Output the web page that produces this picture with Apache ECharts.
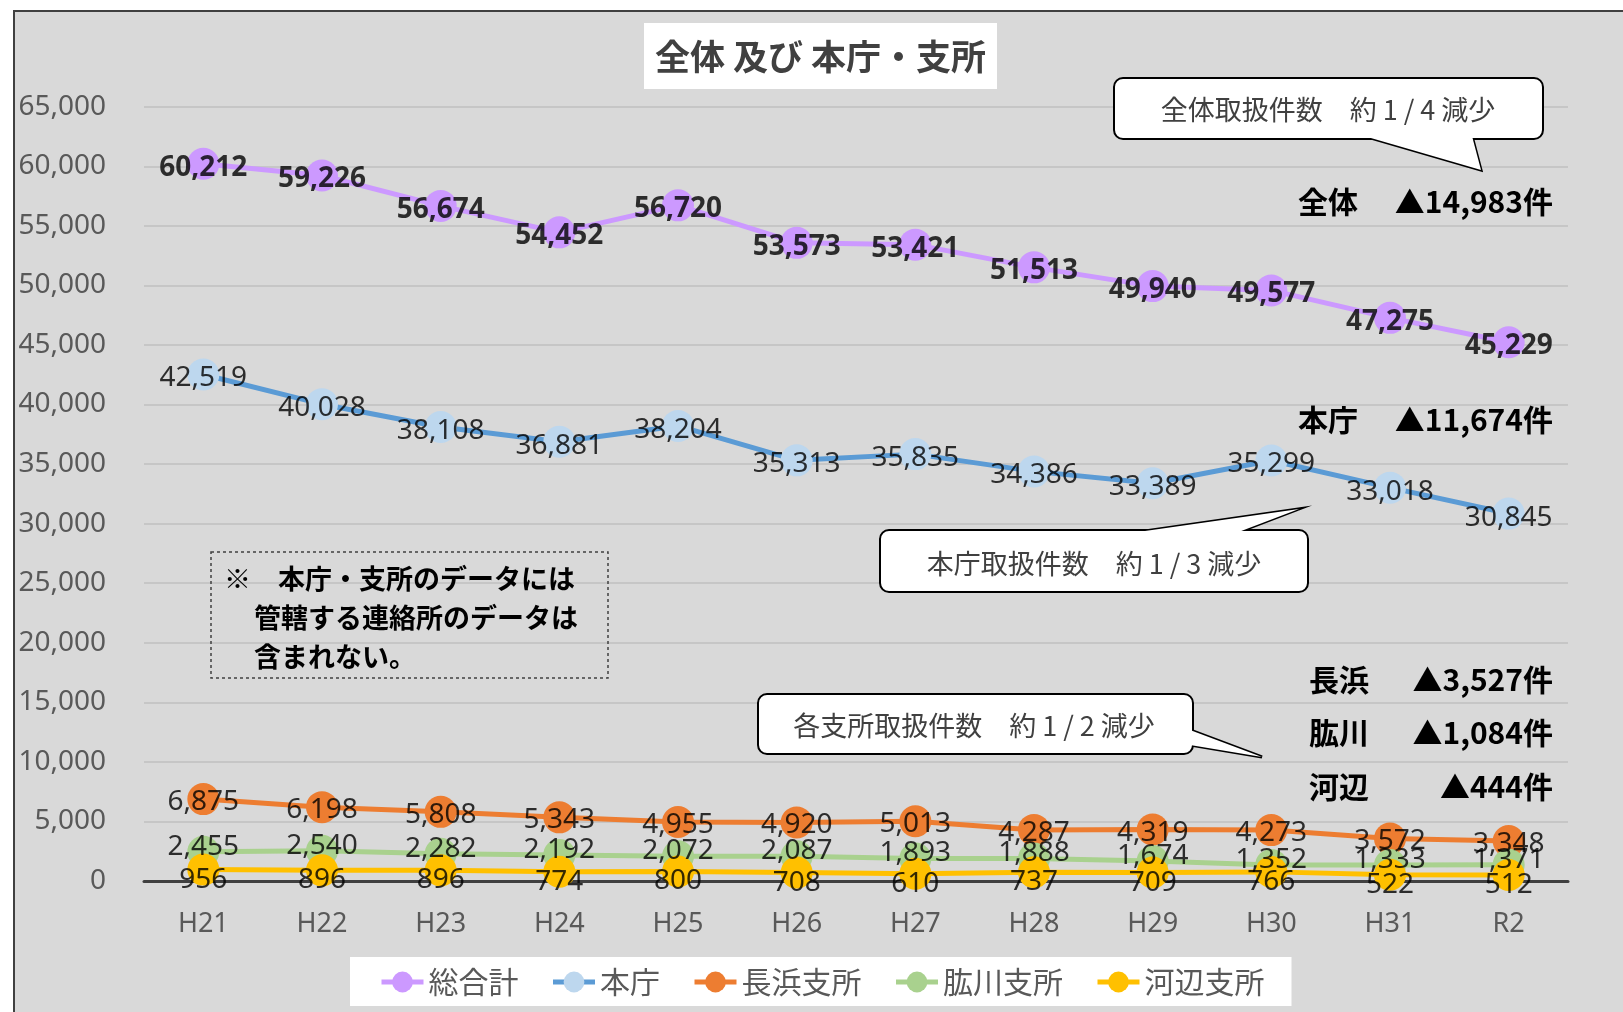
<!DOCTYPE html>
<html><head><meta charset="utf-8">
<script src="https://cdn.jsdelivr.net/npm/echarts@6/dist/echarts.min.js"></script>
<style>
html,body{margin:0;padding:0;background:#fff;overflow:hidden;width:1623px;height:1012px;}
#bg{position:absolute;left:13px;top:10px;width:1700px;height:1100px;background:#d9d9d9;border-top:2px solid #404040;border-left:2px solid #404040;}
#chart{position:absolute;left:0;top:0;width:1623px;height:1012px;}
</style></head><body><div id="bg"></div><div id="chart"></div>
<script>
const categories = ['H21','H22','H23','H24','H25','H26','H27','H28','H29','H30','H31','R2'];
const seriesNames = ['総合計','本庁','長浜支所','肱川支所','河辺支所'];
const totalValues    = [60212,59226,56674,54452,56720,53573,53421,51513,49940,49577,47275,45229];
const honchoValues   = [42519,40028,38108,36881,38204,35313,35835,34386,33389,35299,33018,30845];
const nagahamaValues = [6875,6198,5808,5343,4955,4920,5013,4287,4319,4273,3572,3348];
const hijikawaValues = [2455,2540,2282,2192,2072,2087,1893,1888,1674,1352,1333,1371];
const kawabeValues   = [956,896,896,774,800,708,610,737,709,766,522,512];
const decreaseNames  = ['全体','本庁','長浜','肱川','河辺'];
const decreaseTexts  = ['▲14,983件','▲11,674件','▲3,527件','▲1,084件','▲444件'];

const allValues = [totalValues, honchoValues, nagahamaValues, hijikawaValues, kawabeValues];
const lineColors = ['#cc99ff','#5b9bd5','#ed7d31','#a9d18e','#ffc000'];
const markerColors = ['#cc99ff','#bdd7ee','#ed7d31','#a9d18e','#ffc000'];
const labelOffsets = [4,4,3,-5,10];
const fmt = v => Number(v).toLocaleString('en-US');
const NUMFONT = '"Noto Sans", "Noto Sans CJK JP", sans-serif';
const JPFONT = '"Noto Sans CJK JP", "Noto Sans", sans-serif';

const series = [];
allValues.forEach((vals, i) => {
  series.push({
    name: seriesNames[i], type: 'line', data: vals, z: 2 + i,
    symbol: 'circle', symbolSize: 32, showSymbol: true,
    lineStyle: {color: lineColors[i], width: 5},
    itemStyle: {color: markerColors[i]},
    label: {show: false}
  });
});
allValues.forEach((vals, i) => {
  series.push({
    name: '_lbl' + i, type: 'scatter', data: vals, z: 20, silent: true,
    symbolSize: 1, itemStyle: {color: 'rgba(0,0,0,0)'},
    label: {show: true, position: 'inside', offset: [0, labelOffsets[i]],
      formatter: p => fmt(p.value), color: '#000', fontSize: 28,
      fontWeight: i === 0 ? 'bold' : 'normal', fontFamily: NUMFONT}
  });
});

const graphics = [];
// title
graphics.push({type:'rect', z:100, shape:{x:644,y:23,width:353,height:66}, style:{fill:'#fff'}});
graphics.push({type:'text', z:101, x:820.5, y:57, style:{text:'全体 及び 本庁・支所', fill:'#404040', font:'bold 35px ' + JPFONT, align:'center', verticalAlign:'middle'}});
// callouts: box + pointer triangle
const callouts = [
  {box:[1114,78,429,61], tri:[[1364,136],[1481,170],[1472,136]], tx:1328, ty:110, text:'全体取扱件数　約 1 / 4 減少'},
  {box:[880,530,428,62], tri:[[1131,533],[1299,509],[1236,533]], tx:1094, ty:564, text:'本庁取扱件数　約 1 / 3 減少'},
  {box:[758,694,435,60], tri:[[1190,730],[1262,757],[1190,745]], tx:974, ty:726, text:'各支所取扱件数　約 1 / 2 減少'}
];
callouts.forEach(c => {
  graphics.push({type:'polygon', z:100, shape:{points:c.tri}, style:{fill:'#fff', stroke:'#000', lineWidth:3}});
  graphics.push({type:'rect', z:100, shape:{x:c.box[0],y:c.box[1],width:c.box[2],height:c.box[3],r:9}, style:{fill:'#fff', stroke:'#000', lineWidth:2}});
  graphics.push({type:'polygon', z:100, shape:{points:c.tri}, style:{fill:'#fff'}});
  graphics.push({type:'text', z:101, x:c.tx, y:c.ty, style:{text:c.text, fill:'#404040', font:'27px ' + JPFONT, align:'center', verticalAlign:'middle'}});
});
// note box
graphics.push({type:'rect', z:100, shape:{x:211,y:552,width:397,height:126}, style:{fill:'rgba(0,0,0,0)', stroke:'#404040', lineWidth:1.5, lineDash:[3,3]}});
const noteLines = [['※　本庁・支所のデータには',224,579],['管轄する連絡所のデータは',254,618],['含まれない。',254,657]];
noteLines.forEach(l => graphics.push({type:'text', z:101, x:l[1], y:l[2], style:{text:l[0], fill:'#000', font:'bold 27px ' + JPFONT, align:'left', verticalAlign:'middle'}}));
// decrease labels
const decX = [1298,1298,1309,1309,1309];
const decY = [202,420,680,733,787];
decreaseNames.forEach((n, i) => {
  graphics.push({type:'text', z:101, x:decX[i], y:decY[i], style:{text:n, fill:'#000', font:'bold 30px ' + JPFONT, align:'left', verticalAlign:'middle'}});
  graphics.push({type:'text', z:101, x:1553, y:decY[i], style:{text:decreaseTexts[i], fill:'#000', font:'bold 30px ' + JPFONT, align:'right', verticalAlign:'middle'}});
});

const chart = echarts.init(document.getElementById('chart'));
chart.setOption({
  animation: false,
  grid: {left: 144, right: 55, top: 106.7, bottom: 131, containLabel: false},
  xAxis: {type: 'category', data: categories, boundaryGap: true,
    axisLine: {show: true, lineStyle: {color: '#404040', width: 3}},
    axisTick: {show: false},
    axisLabel: {color: '#595959', fontSize: 27, margin: 30, fontFamily: NUMFONT}},
  yAxis: {type: 'value', min: 0, max: 65000, interval: 5000,
    axisLine: {show: false}, axisTick: {show: false},
    splitLine: {lineStyle: {color: '#bfbfbf', width: 1.5}},
    axisLabel: {color: '#595959', fontSize: 28, margin: 38, fontFamily: NUMFONT, formatter: v => fmt(v)}},
  legend: {data: seriesNames, left: 350, top: 957, padding: [10, 27, 9, 29], backgroundColor: '#fff',
    itemGap: 32, itemWidth: 42, itemHeight: 26,
    lineStyle: {width: 5},
    textStyle: {fontSize: 30, color: '#595959', fontFamily: JPFONT}},
  graphic: graphics,
  series: series
});
</script>
</body></html>
